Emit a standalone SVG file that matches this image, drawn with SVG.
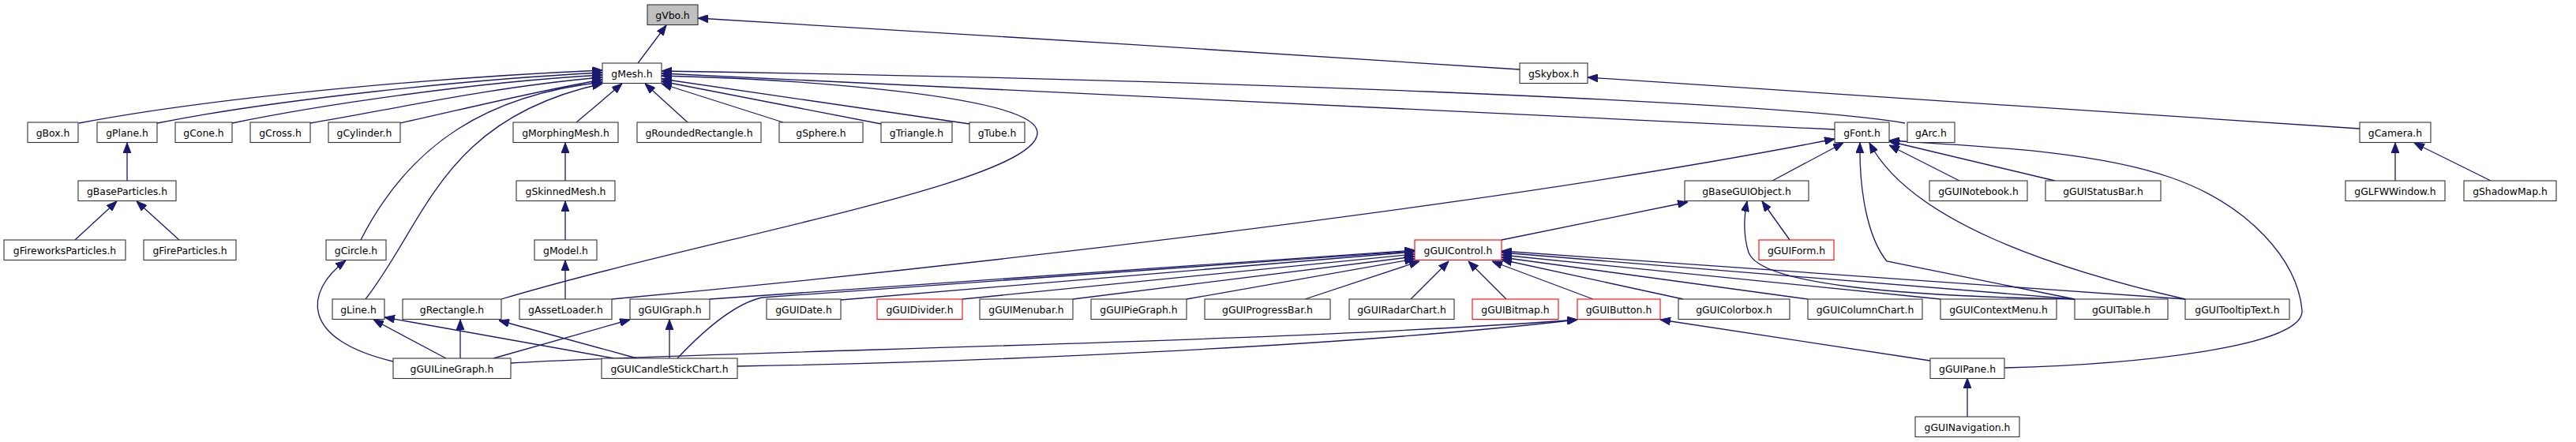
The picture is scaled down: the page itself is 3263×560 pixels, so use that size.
<svg xmlns="http://www.w3.org/2000/svg" width="3263" height="560" viewBox="0 0 3263 560">
<style>
rect{fill:#fff;stroke:#333;stroke-width:1.1}
.top rect{fill:#bfbfbf}
.red rect{stroke:#ff0000}
text{font-family:"DejaVu Sans","Noto Sans",sans-serif;font-size:12.4px;fill:#000;text-anchor:middle}
#edges path{fill:none;stroke:#191970;stroke-width:1.3;marker-end:url(#ah)}
</style>
<defs>
<marker id="ah" markerUnits="userSpaceOnUse" markerWidth="13" markerHeight="10" viewBox="0 0 13 10" refX="13" refY="5" orient="auto"><path d="M0,0 L13,5 L0,10 z" fill="#191970" stroke="#191970" stroke-width="1"/></marker>
</defs>
<rect x="0" y="0" width="3263" height="560" style="fill:#fff;stroke:none"/>
<g id="edges">
<path d="M808,80 L844,32"/>
<path d="M1925,88 C1600,68 1200,40 884,23"/>
<path d="M2989,163 L2011,98"/>
<path d="M3034,229 L3034,181"/>
<path d="M3155,229 L3058,181"/>
<path d="M100,156 C300,118 600,96 763,89"/>
<path d="M199,156 C350,126 600,100 763,92"/>
<path d="M294,156 C400,134 600,104 763,95"/>
<path d="M393,156 C480,142 620,110 763,98"/>
<path d="M507,156 C580,140 680,115 763,101"/>
<path d="M457,304 C520,180 620,120 763,104"/>
<path d="M463,379 C540,280 560,150 763,106"/>
<path d="M730,155 L788,106"/>
<path d="M871,155 L817,106"/>
<path d="M992,155 L838,106"/>
<path d="M1116,157 L838,103"/>
<path d="M1228,157 L838,100"/>
<path d="M635,379 C900,300 1320,230 1314,167 C1310,120 1000,100 838,96"/>
<path d="M2324,164 L838,93"/>
<path d="M2413,156 C2250,128 1500,100 838,90"/>
<path d="M161,229 L161,181"/>
<path d="M95,304 L148,255"/>
<path d="M227,304 L173,255"/>
<path d="M716,229 L716,181"/>
<path d="M716,304 L716,255"/>
<path d="M716,379 L716,330"/>
<path d="M775,379 C1200,340 1900,260 2324,176"/>
<path d="M498,458 C380,430 385,370 438,330"/>
<path d="M565,454 L473,405"/>
<path d="M778,454 L487,402"/>
<path d="M583,454 L583,405"/>
<path d="M807,454 L632,406"/>
<path d="M625,454 L798,405"/>
<path d="M848,454 L848,405"/>
<path d="M858,454 C890,420 930,385 965,377 L1792,318"/>
<path d="M899,379 L1792,317"/>
<path d="M1065,380 L1792,319"/>
<path d="M1219,379 L1792,322"/>
<path d="M1359,379 L1792,325"/>
<path d="M1503,379 L1792,328"/>
<path d="M1653,379 L1798,331"/>
<path d="M1787,379 L1835,331"/>
<path d="M1908,379 L1860,331"/>
<path d="M2018,379 L1890,331"/>
<path d="M2132,379 L1902,329"/>
<path d="M2290,379 L1902,326"/>
<path d="M2458,379 L1902,323"/>
<path d="M2628,379 L1902,320"/>
<path d="M2768,379 L1902,318"/>
<path d="M1902,304 L2138,256"/>
<path d="M2267,304 L2232,255"/>
<path d="M2628,379 C2400,375 2230,360 2215,320 C2207,295 2210,270 2213,255"/>
<path d="M2245,229 L2335,181"/>
<path d="M2628,379 L2390,331 C2365,300 2355,240 2356,181"/>
<path d="M2768,379 C2600,340 2420,280 2368,181"/>
<path d="M2482,229 L2393,184"/>
<path d="M2603,229 L2393,179"/>
<path d="M2539,466 C2700,462 2920,440 2916,393 C2910,330 2850,260 2750,225 C2650,190 2500,185 2393,178"/>
<path d="M647,460 C900,445 1600,435 1998,405"/>
<path d="M934,464 C1200,460 1700,440 1998,405"/>
<path d="M2445,457 L2103,405"/>
<path d="M2492,528 L2492,479"/>
</g>
<g id="gVbo" class="top"><rect x="820" y="6" width="64" height="25.5"/><text x="852" y="23.5">gVbo.h</text></g>
<g id="gMesh"><rect x="763" y="80" width="75" height="25.5"/><text x="800.5" y="97.5">gMesh.h</text></g>
<g id="gSkybox"><rect x="1925" y="80" width="86" height="25.5"/><text x="1968" y="97.5">gSkybox.h</text></g>
<g id="gBox"><rect x="35" y="155" width="64" height="25.5"/><text x="67" y="172.5">gBox.h</text></g>
<g id="gPlane"><rect x="123" y="155" width="76" height="25.5"/><text x="161" y="172.5">gPlane.h</text></g>
<g id="gCone"><rect x="222" y="155" width="72" height="25.5"/><text x="258" y="172.5">gCone.h</text></g>
<g id="gCross"><rect x="317" y="155" width="76" height="25.5"/><text x="355" y="172.5">gCross.h</text></g>
<g id="gCylinder"><rect x="416" y="155" width="91" height="25.5"/><text x="461.5" y="172.5">gCylinder.h</text></g>
<g id="gMorphingMesh"><rect x="650" y="155" width="133" height="25.5"/><text x="716.5" y="172.5">gMorphingMesh.h</text></g>
<g id="gRoundedRectangle"><rect x="807" y="155" width="157" height="25.5"/><text x="885.5" y="172.5">gRoundedRectangle.h</text></g>
<g id="gSphere"><rect x="987" y="155" width="106" height="25.5"/><text x="1040" y="172.5">gSphere.h</text></g>
<g id="gTriangle"><rect x="1116" y="155" width="90" height="25.5"/><text x="1161" y="172.5">gTriangle.h</text></g>
<g id="gTube"><rect x="1228" y="155" width="70" height="25.5"/><text x="1263" y="172.5">gTube.h</text></g>
<g id="gFont"><rect x="2324" y="155" width="69" height="25.5"/><text x="2358.5" y="172.5">gFont.h</text></g>
<g id="gArc"><rect x="2416" y="155" width="60" height="25.5"/><text x="2446" y="172.5">gArc.h</text></g>
<g id="gCamera"><rect x="2989" y="155" width="90" height="25.5"/><text x="3034" y="172.5">gCamera.h</text></g>
<g id="gBaseParticles"><rect x="99" y="229" width="124" height="25.5"/><text x="161" y="246.5">gBaseParticles.h</text></g>
<g id="gSkinnedMesh"><rect x="654" y="229" width="125" height="25.5"/><text x="716.5" y="246.5">gSkinnedMesh.h</text></g>
<g id="gBaseGUIObject"><rect x="2134" y="229" width="157" height="25.5"/><text x="2212.5" y="246.5">gBaseGUIObject.h</text></g>
<g id="gGUINotebook"><rect x="2444" y="229" width="124" height="25.5"/><text x="2506" y="246.5">gGUINotebook.h</text></g>
<g id="gGUIStatusBar"><rect x="2591" y="229" width="146" height="25.5"/><text x="2664" y="246.5">gGUIStatusBar.h</text></g>
<g id="gGLFWWindow"><rect x="2971" y="229" width="126" height="25.5"/><text x="3034" y="246.5">gGLFWWindow.h</text></g>
<g id="gShadowMap"><rect x="3121" y="229" width="117" height="25.5"/><text x="3179.5" y="246.5">gShadowMap.h</text></g>
<g id="gFireworksParticles"><rect x="5" y="304" width="154" height="25.5"/><text x="82" y="321.5">gFireworksParticles.h</text></g>
<g id="gFireParticles"><rect x="182" y="304" width="117" height="25.5"/><text x="240.5" y="321.5">gFireParticles.h</text></g>
<g id="gCircle"><rect x="413" y="304" width="76" height="25.5"/><text x="451" y="321.5">gCircle.h</text></g>
<g id="gModel"><rect x="677" y="304" width="79" height="25.5"/><text x="716.5" y="321.5">gModel.h</text></g>
<g id="gGUIControl" class="red"><rect x="1792" y="304" width="110" height="25.5"/><text x="1847" y="321.5">gGUIControl.h</text></g>
<g id="gGUIForm" class="red"><rect x="2228" y="304" width="95" height="25.5"/><text x="2275.5" y="321.5">gGUIForm.h</text></g>
<g id="gLine"><rect x="421" y="379" width="66" height="25.5"/><text x="454" y="396.5">gLine.h</text></g>
<g id="gRectangle"><rect x="510" y="379" width="125" height="25.5"/><text x="572.5" y="396.5">gRectangle.h</text></g>
<g id="gAssetLoader"><rect x="658" y="379" width="117" height="25.5"/><text x="716.5" y="396.5">gAssetLoader.h</text></g>
<g id="gGUIGraph"><rect x="798" y="379" width="101" height="25.5"/><text x="848.5" y="396.5">gGUIGraph.h</text></g>
<g id="gGUIDate"><rect x="971" y="379" width="94" height="25.5"/><text x="1018" y="396.5">gGUIDate.h</text></g>
<g id="gGUIDivider" class="red"><rect x="1111" y="379" width="108" height="25.5"/><text x="1165" y="396.5">gGUIDivider.h</text></g>
<g id="gGUIMenubar"><rect x="1241" y="379" width="118" height="25.5"/><text x="1300" y="396.5">gGUIMenubar.h</text></g>
<g id="gGUIPieGraph"><rect x="1382" y="379" width="121" height="25.5"/><text x="1442.5" y="396.5">gGUIPieGraph.h</text></g>
<g id="gGUIProgressBar"><rect x="1526" y="379" width="159" height="25.5"/><text x="1605.5" y="396.5">gGUIProgressBar.h</text></g>
<g id="gGUIRadarChart"><rect x="1709" y="379" width="133" height="25.5"/><text x="1775.5" y="396.5">gGUIRadarChart.h</text></g>
<g id="gGUIBitmap" class="red"><rect x="1865" y="379" width="109" height="25.5"/><text x="1919.5" y="396.5">gGUIBitmap.h</text></g>
<g id="gGUIButton" class="red"><rect x="1998" y="379" width="105" height="25.5"/><text x="2050.5" y="396.5">gGUIButton.h</text></g>
<g id="gGUIColorbox"><rect x="2126" y="379" width="141" height="25.5"/><text x="2196.5" y="396.5">gGUIColorbox.h</text></g>
<g id="gGUIColumnChart"><rect x="2290" y="379" width="145" height="25.5"/><text x="2362.5" y="396.5">gGUIColumnChart.h</text></g>
<g id="gGUIContextMenu"><rect x="2458" y="379" width="147" height="25.5"/><text x="2531.5" y="396.5">gGUIContextMenu.h</text></g>
<g id="gGUITable"><rect x="2628" y="379" width="118" height="25.5"/><text x="2687" y="396.5">gGUITable.h</text></g>
<g id="gGUITooltipText"><rect x="2768" y="379" width="132" height="25.5"/><text x="2834" y="396.5">gGUITooltipText.h</text></g>
<g id="gGUILineGraph"><rect x="498" y="454" width="149" height="25.5"/><text x="572.5" y="471.5">gGUILineGraph.h</text></g>
<g id="gGUICandleStickChart"><rect x="762" y="454" width="172" height="25.5"/><text x="848" y="471.5">gGUICandleStickChart.h</text></g>
<g id="gGUIPane"><rect x="2445" y="454" width="94" height="25.5"/><text x="2492" y="471.5">gGUIPane.h</text></g>
<g id="gGUINavigation"><rect x="2426" y="528" width="132" height="25.5"/><text x="2492" y="545.5">gGUINavigation.h</text></g>
</svg>
